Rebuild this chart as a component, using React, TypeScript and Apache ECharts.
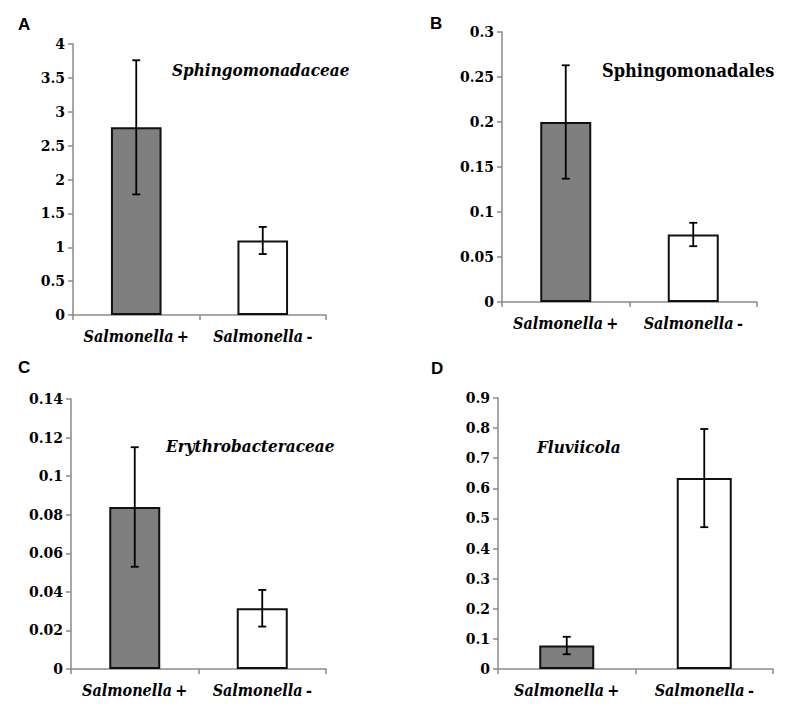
import React, { useEffect, useRef } from "react";
import * as echarts from "echarts";

const categories = ["Salmonella +", "Salmonella -"];

const meansA = [2.77, 1.1];
const errA = [0.99, 0.2];
const meansB = [0.2, 0.075];
const errB = [0.063, 0.013];
const meansC = [0.084, 0.0315];
const errC = [0.031, 0.0095];
const meansD = [0.078, 0.634];
const errD = [0.029, 0.163];

const panelLetters = ["A", "B", "C", "D"];
const panelTitles = ["Sphingomonadaceae", "Sphingomonadales", "Erythrobacteraceae", "Fluviicola"];
const yMax = [4, 0.3, 0.14, 0.9];
const yInterval = [0.5, 0.05, 0.02, 0.1];

const SERIF = "DejaVu Serif";
const SERIF_C = "DejaVu Serif Condensed, DejaVu Serif";
const SANS = "Liberation Sans, DejaVu Sans";
const AXIS_GRAY = "#8a8a8a";

export default function App() {
  const ref = useRef<HTMLDivElement>(null);

  useEffect(() => {
    if (!ref.current) return;
    const chart = echarts.init(ref.current, undefined, { renderer: "svg" });

    const means = [meansA, meansB, meansC, meansD];
    const errs = [errA, errB, errC, errD];

    const grids = [
      { left: 73, top: 44, width: 253, height: 271 },
      { left: 502, top: 32, width: 255, height: 270 },
      { left: 71, top: 399, width: 255, height: 270 },
      { left: 498, top: 398, width: 275, height: 271 },
    ];

    const xAxes = grids.map((_, i) => ({
      type: "category" as const,
      gridIndex: i,
      data: categories,
      boundaryGap: true,
      axisLine: { lineStyle: { color: AXIS_GRAY, width: 1.5 } },
      axisTick: { show: true, length: 5, inside: false, alignWithLabel: false, lineStyle: { color: AXIS_GRAY, width: 1.5 } },
      axisLabel: {
        interval: 0,
        hideOverlap: false,
        margin: 13,
        formatter: (v: string) => {
          const parts = v.split(" ");
          return `{i|${parts[0]}} {n|${parts[1]}}`;
        },
        rich: {
          i: { fontFamily: SERIF_C, fontSize: 16, fontWeight: "bold", fontStyle: "italic", color: "#000" },
          n: { fontFamily: SERIF_C, fontSize: 16, fontWeight: "bold", color: "#000" },
        },
      },
      splitLine: { show: false },
    }));

    const yAxes = grids.map((_, i) => ({
      type: "value" as const,
      gridIndex: i,
      min: 0,
      max: yMax[i],
      interval: yInterval[i],
      axisLine: { show: true, lineStyle: { color: AXIS_GRAY, width: 1.5 } },
      axisTick: { show: true, length: 5, lineStyle: { color: AXIS_GRAY, width: 1.5 } },
      axisLabel: {
        margin: 8,
        fontFamily: SERIF,
        fontSize: 14,
        fontWeight: "bold",
        color: "#000",
        formatter: (v: number) => String(parseFloat(v.toFixed(4))),
      },
      splitLine: { show: false },
    }));

    const series: any[] = [];
    grids.forEach((_, i) => {
      series.push({
        type: "bar",
        xAxisIndex: i,
        yAxisIndex: i,
        barWidth: "40%",
        data: means[i].map((v, j) => ({
          value: v,
          itemStyle: {
            color: j === 0 ? "#7f7f7f" : "#ffffff",
            borderColor: "#111",
            borderWidth: 2,
          },
        })),
        z: 2,
      });
      series.push({
        type: "custom",
        xAxisIndex: i,
        yAxisIndex: i,
        z: 5,
        data: means[i].map((v, j) => [j, v, errs[i][j]]),
        renderItem: (params: any, api: any) => {
          const x = api.value(0);
          const m = api.value(1);
          const e = api.value(2);
          const top = api.coord([x, m + e]);
          const bot = api.coord([x, m - e]);
          const cap = 4;
          const style = { stroke: "#000", lineWidth: 1.8 };
          return {
            type: "group",
            children: [
              { type: "line", shape: { x1: top[0], y1: top[1], x2: bot[0], y2: bot[1] }, style },
              { type: "line", shape: { x1: top[0] - cap, y1: top[1], x2: top[0] + cap, y2: top[1] }, style },
              { type: "line", shape: { x1: bot[0] - cap, y1: bot[1], x2: bot[0] + cap, y2: bot[1] }, style },
            ],
          };
        },
      });
    });

    const letterPos = [
      [18, 24],
      [430, 23],
      [18, 367],
      [431, 368],
    ];
    const titlePos = [
      [172, 70],
      [602, 70],
      [166, 446],
      [537, 447],
    ];
    const titleSize = [17, 18, 17, 17];
    const titleItalic = [true, false, true, true];

    const graphic: any[] = [];
    panelLetters.forEach((l, i) => {
      graphic.push({
        type: "text",
        x: letterPos[i][0],
        y: letterPos[i][1],
        style: {
          text: l,
          fontFamily: SANS,
          fontSize: 17,
          fontWeight: "bold",
          fill: "#000",
          verticalAlign: "middle",
          align: "left",
        },
      });
      graphic.push({
        type: "text",
        x: titlePos[i][0],
        y: titlePos[i][1],
        style: {
          text: panelTitles[i],
          fontFamily: SERIF_C,
          fontSize: titleSize[i],
          fontWeight: "bold",
          fontStyle: titleItalic[i] ? "italic" : "normal",
          fill: "#000",
          verticalAlign: "middle",
          align: "left",
        },
      });
    });

    chart.setOption({
      animation: false,
      backgroundColor: "#ffffff",
      grid: grids,
      xAxis: xAxes,
      yAxis: yAxes,
      series,
      graphic,
    });

    return () => chart.dispose();
  }, []);

  return (
    <div
      ref={ref}
      style={{ position: "fixed", left: 0, top: 0, width: 788, height: 713, background: "#fff" }}
    />
  );
}
